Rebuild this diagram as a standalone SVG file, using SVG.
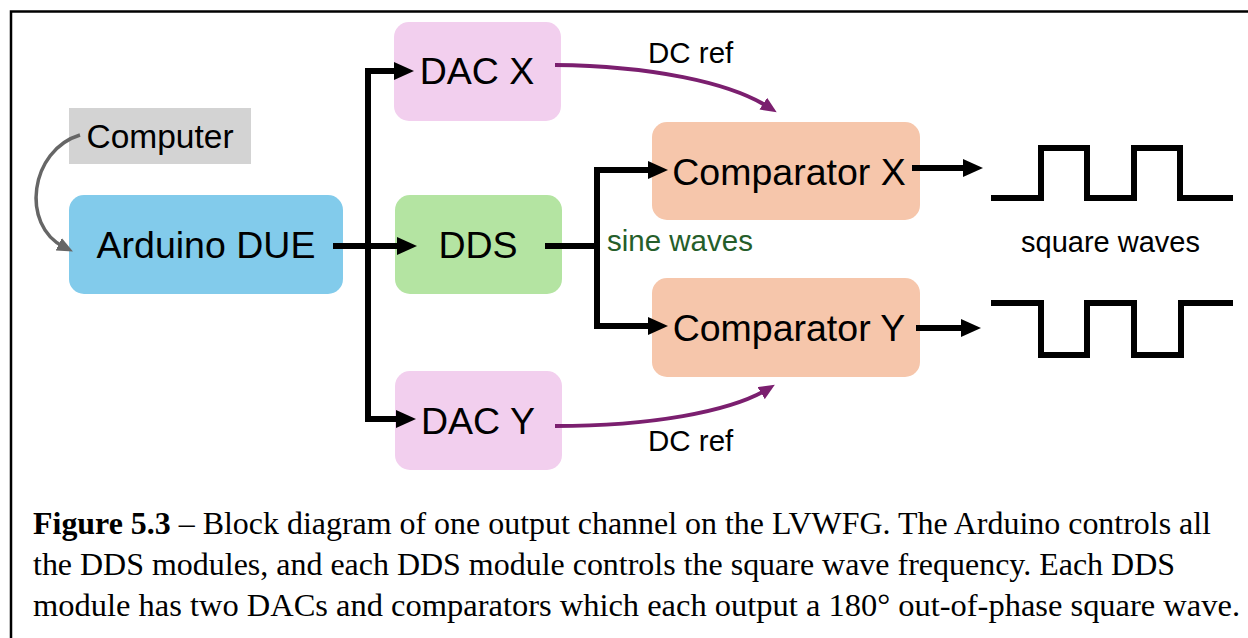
<svg xmlns="http://www.w3.org/2000/svg" width="1248" height="638" viewBox="0 0 1248 638">
<style>
.node{font-family:"Liberation Sans",Arial,sans-serif;font-size:37.5px;fill:#000;text-anchor:middle}
.lbl{font-family:"Liberation Sans",Arial,sans-serif;font-size:29.5px;fill:#000}
.blk{fill:none;stroke:#000;stroke-width:6;stroke-linejoin:miter}
.pur{fill:none;stroke:#7b1f6f;stroke-width:4}
.wave{fill:none;stroke:#000;stroke-width:6;stroke-linejoin:miter;stroke-linecap:square}
.cap{font-family:"Liberation Serif","Times New Roman",serif;font-size:32px;fill:#000}
</style>
<defs>
<marker id="ab" viewBox="0 0 20 18" refX="10" refY="9" markerWidth="20" markerHeight="18" markerUnits="userSpaceOnUse" orient="auto"><path d="M0,0 L20,9 L0,18 z" fill="#000"/></marker>
<marker id="ap" viewBox="0 0 16 14" refX="8" refY="7" markerWidth="16" markerHeight="14" markerUnits="userSpaceOnUse" orient="auto"><path d="M0,0 L16,7 L0,14 z" fill="#7b1f6f"/></marker>
<marker id="ag" viewBox="0 0 16 14" refX="6" refY="7" markerWidth="16" markerHeight="14" markerUnits="userSpaceOnUse" orient="auto"><path d="M0,0 L16,7 L0,14 z" fill="#666"/></marker>
</defs>
<rect width="1248" height="638" fill="#fff"/>
<path d="M11,638 V11.5 H1248" fill="none" stroke="#000" stroke-width="2.5"/>

<g id="computer"><rect x="69" y="108" width="182" height="56" fill="#d3d3d3"/><text class="node" x="160" y="148" style="font-size:33.5px">Computer</text></g>
<g id="arduino"><rect x="69" y="195" width="274" height="99" rx="15" fill="#82cbeb"/><text class="node" x="206" y="258">Arduino DUE</text></g>
<g id="dacx"><rect x="394" y="22" width="167" height="99" rx="15" fill="#f2cfee"/><text class="node" x="477" y="84">DAC X</text></g>
<g id="dds"><rect x="395" y="195" width="167" height="99" rx="15" fill="#b4e4a2"/><text class="node" x="478" y="258">DDS</text></g>
<g id="dacy"><rect x="395" y="371" width="167" height="99" rx="15" fill="#f2cfee"/><text class="node" x="478" y="434">DAC Y</text></g>
<g id="compx"><rect x="652" y="122" width="268" height="98" rx="15" fill="#f6c6ab"/><text class="node" x="789" y="185">Comparator X</text></g>
<g id="compy"><rect x="652" y="278" width="268" height="99" rx="15" fill="#f6c6ab"/><text class="node" x="789" y="341">Comparator Y</text></g>

<g id="connectors">
<path class="blk" d="M333,246 H407" marker-end="url(#ab)"/>
<path class="blk" d="M368,246 V71 H404" marker-end="url(#ab)"/>
<path class="blk" d="M368,246 V419 H406" marker-end="url(#ab)"/>
<path class="blk" d="M545,246 H597"/>
<path class="blk" d="M597,246 V170 H658" marker-end="url(#ab)"/>
<path class="blk" d="M597,246 V326 H658" marker-end="url(#ab)"/>
<path class="blk" d="M912,168 H973" marker-end="url(#ab)"/>
<path class="blk" d="M916,328 H971" marker-end="url(#ab)"/>
<path class="pur" d="M555,65 C650,66 730,82 770,108" marker-end="url(#ap)"/>
<path class="pur" d="M555,426 C650,426 730,412 768,389" marker-end="url(#ap)"/>
<path d="M80,135 C30,150 20,225 64,247" fill="none" stroke="#666" stroke-width="3.5" marker-end="url(#ag)"/>
</g>

<g id="labels">
<text class="lbl" x="648" y="63">DC ref</text>
<text class="lbl" x="648" y="451">DC ref</text>
<text class="lbl" x="607" y="251" style="fill:#255e2a">sine waves</text>
<text class="lbl" x="1021" y="252" style="font-size:29px">square waves</text>
</g>

<g id="waves">
<path class="wave" d="M994,198 H1041 V148 H1087 V198 H1134 V148 H1180 V198 H1230"/>
<path class="wave" d="M994,303 H1041 V355 H1087 V303 H1134 V355 H1181 V303 H1230"/>
</g>

<g id="caption">
<text class="cap" x="33" y="534" textLength="1178" lengthAdjust="spacingAndGlyphs"><tspan font-weight="bold">Figure 5.3</tspan> – Block diagram of one output channel on the LVWFG. The Arduino controls all</text>
<text class="cap" x="33" y="575" textLength="1142" lengthAdjust="spacingAndGlyphs">the DDS modules, and each DDS module controls the square wave frequency. Each DDS</text>
<text class="cap" x="33" y="616" textLength="1207" lengthAdjust="spacingAndGlyphs">module has two DACs and comparators which each output a 180° out-of-phase square wave.</text>
</g>
</svg>
